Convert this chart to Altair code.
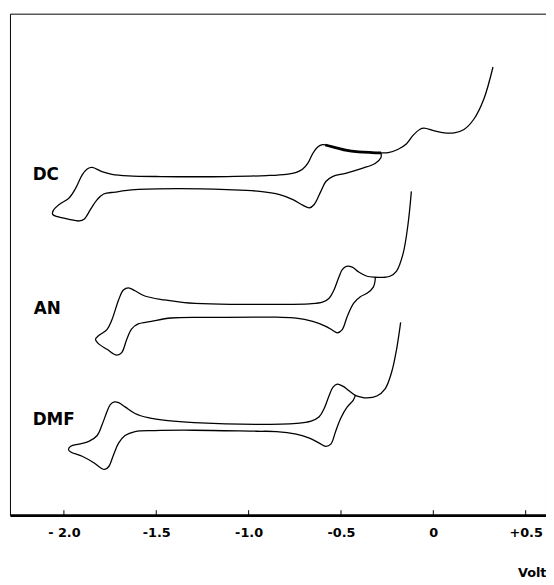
import altair as alt
import pandas as pd

# ---- data (potential in V, current in arbitrary units) ----
dc_v = [0.323, 0.273, 0.220, 0.166, 0.113, 0.059, 0.006, -0.051, -0.074, -0.110, -0.145, -0.190,
        -0.244, -0.283, -0.332, -0.404, -0.475, -0.546, -0.600, -0.626, -0.653, -0.680, -0.707,
        -0.742, -0.796, -0.903, -1.117, -1.473, -1.651, -1.740, -1.794, -1.847, -1.874, -1.901,
        -1.936, -1.972, -2.025, -2.057, -2.061, -2.034, -1.972, -1.918, -1.891, -1.856, -1.820,
        -1.785, -1.722, -1.615, -1.384, -1.117, -0.939, -0.832, -0.760, -0.707, -0.671, -0.645,
        -0.609, -0.582, -0.546, -0.475, -0.386, -0.315, -0.284, -0.283]
dc_i = [454.0, 421.3, 401.3, 390.7, 387.3, 387.3, 389.3, 392.0, 390.7, 384.7, 376.3, 370.7,
        367.3, 367.0, 367.3, 368.0, 369.7, 373.0, 375.3, 373.0, 366.3, 356.3, 350.7,
        347.3, 345.3, 344.0, 343.0, 343.0, 343.7, 345.3, 348.0, 352.3, 350.7, 344.7,
        331.3, 321.3, 314.7, 308.7, 304.7, 302.3, 299.7, 298.0, 299.7, 309.7, 319.7,
        325.3, 327.3, 329.7, 330.7, 329.7, 328.0, 324.7, 319.7, 314.0, 311.3, 314.7,
        328.0, 338.0, 343.0, 346.3, 351.3, 356.3, 362.0, 367.0]

# doubled (thicker) stretch of the DC trace
dc_thick_v = [-0.283, -0.332, -0.404, -0.475, -0.546, -0.585]
dc_thick_i = [367.0, 367.3, 368.0, 369.7, 373.0, 375.0]

an_v = [-0.119, -0.137, -0.164, -0.199, -0.235, -0.261, -0.315, -0.359, -0.404, -0.439, -0.471,
        -0.493, -0.511, -0.538, -0.564, -0.600, -0.671, -0.849, -1.206, -1.348, -1.455, -1.562,
        -1.615, -1.651, -1.678, -1.704, -1.740, -1.767, -1.811, -1.829, -1.815, -1.767, -1.714,
        -1.687, -1.660, -1.633, -1.598, -1.526, -1.420, -1.206, -0.849, -0.742, -0.653, -0.582,
        -0.546, -0.520, -0.493, -0.466, -0.431, -0.395, -0.359, -0.324, -0.315, -0.315]
an_i = [328.0, 294.7, 264.7, 247.3, 242.0, 241.0, 241.0, 242.0, 246.3, 251.3, 252.0,
        248.7, 241.3, 228.0, 219.7, 215.7, 214.0, 213.5, 214.0, 215.3, 218.0, 222.0,
        227.3, 230.3, 228.0, 218.0, 198.0, 188.0, 182.0, 178.0, 174.0, 168.0, 162.0,
        164.7, 178.0, 188.7, 193.7, 196.3, 199.7, 200.3, 200.5, 199.7, 196.3, 191.3,
        187.3, 184.7, 188.0, 201.3, 214.7, 221.3, 224.7, 231.3, 238.0, 241.0]

dmf_v = [-0.177, -0.199, -0.226, -0.261, -0.306, -0.359, -0.395, -0.422, -0.458, -0.490, -0.520,
         -0.543, -0.564, -0.591, -0.618, -0.662, -0.742, -0.956, -1.295, -1.437, -1.544, -1.615,
         -1.669, -1.704, -1.726, -1.749, -1.767, -1.794, -1.820, -1.865, -1.918, -1.963, -1.975,
         -1.963, -1.901, -1.838, -1.802, -1.779, -1.758, -1.731, -1.704, -1.669, -1.615, -1.508,
         -1.295, -0.956, -0.849, -0.742, -0.671, -0.618, -0.582, -0.555, -0.529, -0.502, -0.466,
         -0.434, -0.422]
dmf_i = [195.3, 168.0, 144.7, 128.0, 120.7, 118.7, 119.7, 121.3, 126.3, 130.7, 132.7,
         129.7, 121.3, 108.0, 99.7, 95.3, 93.0, 92.0, 93.7, 95.7, 98.7, 103.0,
         109.7, 114.0, 114.7, 112.0, 104.7, 91.3, 80.7, 74.7, 72.0, 69.7, 66.3,
         64.0, 59.7, 53.0, 48.0, 46.3, 49.0, 61.3, 73.0, 80.7, 84.7, 85.7,
         86.0, 85.0, 84.7, 82.0, 78.0, 73.0, 69.7, 72.0, 84.7, 98.0, 109.7,
         116.3, 121.3]

label_text = ["DC", "AN", "DMF"]
label_v = [-2.169, -2.163, -2.169]
label_i = [344.5, 208.5, 96.5]

tick_vals = [-2.0, -1.5, -1.0, -0.5, 0.0, 0.5]
tick_text = ["- 2.0", "-1.5", "-1.0", "-0.5", "0", "+0.5"]

# ---- tables ----
rows = []
for name, vs, cs in [("DC", dc_v, dc_i), ("AN", an_v, an_i), ("DMF", dmf_v, dmf_i)]:
    for k, (v, c) in enumerate(zip(vs, cs)):
        rows.append({"curve": name, "k": k, "V": v, "I": c})
df = pd.DataFrame(rows)
df_thick = pd.DataFrame({"k": range(len(dc_thick_v)), "V": dc_thick_v, "I": dc_thick_i})
df_lab = pd.DataFrame({"t": label_text, "V": label_v, "I": label_i})
df_ticks = pd.DataFrame({"V": tick_vals})

W, H = 543, 508
xs = alt.Scale(domain=[-2.292, 0.610], nice=False, zero=False)
ys = alt.Scale(domain=[0, 508], nice=False, zero=False)

expr = "''"
for v, t in reversed(list(zip(tick_vals, tick_text))):
    expr = f"(abs(datum.value - ({v})) < 0.001 ? '{t}' : {expr})"

FONT = "DejaVu Sans"

x_axis = alt.Axis(values=tick_vals, labelExpr=expr, grid=False, ticks=False, tickSize=0,
                  domainColor="black", domainWidth=3, labelFont=FONT,
                  labelFontWeight="bold", labelFontSize=13, labelColor="black",
                  labelPadding=12, title="Volt", titleFont=FONT,
                  titleFontWeight="bold", titleFontSize=13, titleColor="black",
                  titleAlign="right", titleAnchor="end", titleX=W, titleY=58,
                  titleBaseline="middle")

base_x = alt.X("V:Q", scale=xs, axis=x_axis)
base_y = alt.Y("I:Q", scale=ys, axis=None)

curves = alt.Chart(df).mark_line(color="black", strokeWidth=1.3, interpolate="catmull-rom").encode(
    x=base_x, y=base_y, detail="curve:N", order="k:Q")

thick = alt.Chart(df_thick).mark_line(color="black", strokeWidth=2.8, interpolate="catmull-rom").encode(
    x=alt.X("V:Q", scale=xs), y=alt.Y("I:Q", scale=ys), order="k:Q")

labels = alt.Chart(df_lab).mark_text(font=FONT, fontWeight="bold", fontSize=17,
                                     color="black", align="left", baseline="middle").encode(
    x=alt.X("V:Q", scale=xs), y=alt.Y("I:Q", scale=ys), text="t:N")

inner_ticks = alt.Chart(df_ticks).mark_rule(color="black", strokeWidth=1).encode(
    x=alt.X("V:Q", scale=xs), y=alt.value(H - 5), y2=alt.value(H))

chart = alt.layer(curves, thick, labels, inner_ticks).properties(
    width=W, height=H,
    autosize=alt.AutoSizeParams(type="none"),
    padding={"left": 2, "top": 2, "right": 0, "bottom": 66},
    background="white",
).configure_view(stroke="black", strokeWidth=1)

chart.save("out.html", embed_options={"renderer": "svg", "actions": False})
